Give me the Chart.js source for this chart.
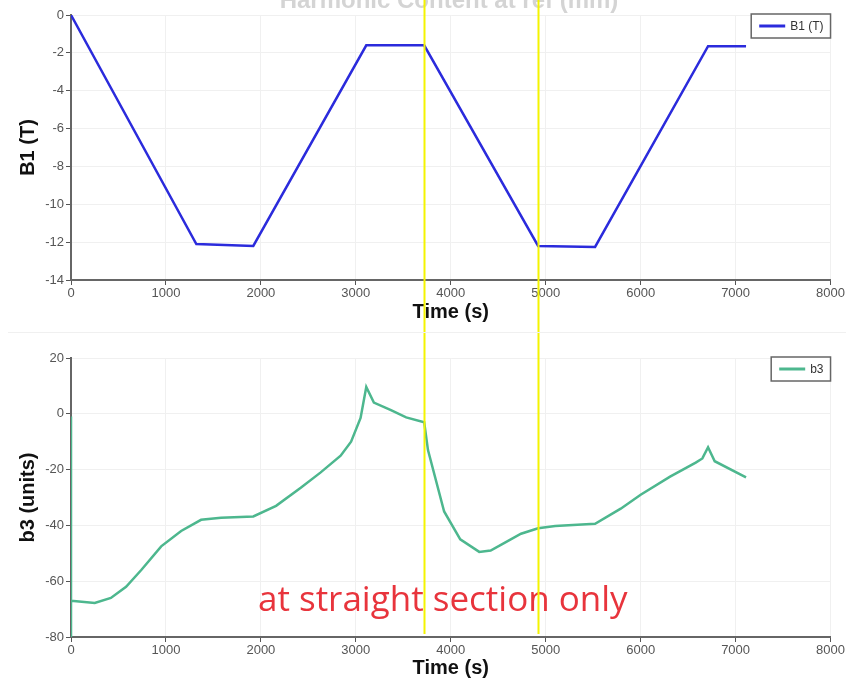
<!DOCTYPE html>
<html>
<head>
<meta charset="utf-8">
<script src="https://cdn.jsdelivr.net/npm/chart.js@4.4.1/dist/chart.umd.min.js"></script>
<style>
  body { margin: 0; background: #fff; }
  #wrap { position: relative; width: 846px; height: 681px; overflow: hidden; background: #fff; }
  #top { position: absolute; left: 0; top: 0; width: 846px; height: 333px; }
  #bottom { position: absolute; left: 0; top: 333px; width: 846px; height: 348px; }
  #sep { position: absolute; left: 8px; top: 332px; width: 838px; height: 1px; background: #f0f0f0; }
</style>
</head>
<body>
<div id="wrap">
  <div id="top"><canvas id="b1chart"></canvas></div>
  <div id="sep"></div>
  <div id="bottom"><canvas id="b3chart"></canvas></div>
</div>
<script>
/* Data */
const timeTicks = [0, 1000, 2000, 3000, 4000, 5000, 6000, 7000, 8000];
const markerTimes = [3720, 4920];

const b1Times  = [0, 1320, 1920, 3110, 3720, 4920, 5520, 6710, 7110];
const b1Values = [0, -12.1, -12.2, -1.6, -1.6, -12.2, -12.25, -1.65, -1.65];

const b3Times  = [0, 0, 0, 250, 420, 580, 740, 950, 1160, 1370, 1580, 1920, 2160, 2420, 2630, 2840, 2950, 3050, 3110, 3190, 3370, 3530, 3720, 3760, 3930, 4100, 4300, 4420, 4580, 4740, 4920, 5100, 5520, 5790, 6000, 6310, 6580, 6650, 6710, 6780, 7110];
const b3Values = [-1, -80, -67, -67.8, -66, -62, -56, -47.5, -42, -38, -37.3, -36.8, -33, -26.5, -21, -15, -10, -1.5, 9.6, 4, 1.3, -1.3, -3, -13, -35, -45, -49.5, -49, -46, -43, -41, -40.2, -39.4, -34, -29, -22.5, -17.5, -16, -12, -17, -22.8];

const tickFont = { family: "'Liberation Sans', Arial, sans-serif", size: 13 };
const titleFont = { family: "'Liberation Sans', Arial, sans-serif", size: 20, weight: 'bold' };

// turn two arrays into {x,y} points
function toPoints(xs, ys) {
  return xs.map((x, i) => ({ x: x, y: ys[i] }));
}

// legend box, yellow markers, faint title, red note
const overlay = {
  id: 'overlay',
  afterDraw(chart, args, opts) {
    const ctx = chart.ctx;
    const area = chart.chartArea;
    const xs = chart.scales.x, ys = chart.scales.y;
    ctx.save();

    if (opts.title) {
      ctx.font = "bold 24px 'Liberation Sans', sans-serif";
      ctx.fillStyle = '#d4d4d4';
      ctx.textAlign = 'center';
      ctx.textBaseline = 'alphabetic';
      ctx.fillText(opts.title, 449, 8);
    }

    if (opts.note) {
      ctx.font = "35px 'Open Sans', sans-serif";
      ctx.fillStyle = '#e8343c';
      ctx.textAlign = 'center';
      ctx.textBaseline = 'middle';
      ctx.fillText(opts.note.text, xs.getPixelForValue(opts.note.x), ys.getPixelForValue(opts.note.y));
    }

    // legend
    const ds = chart.data.datasets[0];
    ctx.font = "12px 'Liberation Sans', sans-serif";
    const tw = ctx.measureText(ds.label).width;
    const w = 8 + 26 + 5 + tw + 7, h = 24;
    const x0 = area.right - w, y0 = area.top - 1;
    ctx.fillStyle = '#fff';
    ctx.fillRect(x0, y0, w, h);
    ctx.strokeStyle = '#666';
    ctx.lineWidth = 1.5;
    ctx.strokeRect(x0, y0, w, h);
    ctx.strokeStyle = ds.borderColor;
    ctx.lineWidth = 3;
    ctx.beginPath();
    ctx.moveTo(x0 + 8, y0 + h / 2);
    ctx.lineTo(x0 + 34, y0 + h / 2);
    ctx.stroke();
    ctx.fillStyle = '#333';
    ctx.textAlign = 'left';
    ctx.textBaseline = 'middle';
    ctx.fillText(ds.label, x0 + 39, y0 + h / 2 + 1);

    // yellow markers
    ctx.strokeStyle = '#f4f400';
    ctx.lineWidth = 2;
    const yEnd = opts.markersToAxis ? area.bottom - 3 : chart.height;
    markerTimes.forEach((t) => {
      const px = Math.round(xs.getPixelForValue(t)) + 0.5;
      ctx.beginPath();
      ctx.moveTo(px, 0);
      ctx.lineTo(px, yEnd);
      ctx.stroke();
    });
    ctx.restore();
  }
};

function makeOptions(yTitle, yMin, yMax, yStep, padTop, xHeight, xTitlePad, extra) {
  return {
    responsive: true,
    maintainAspectRatio: false,
    animation: false,
    layout: { padding: { top: padTop, right: 15, left: 0, bottom: 0 } },
    plugins: {
      legend: { display: false },
      tooltip: { enabled: false },
      overlay: extra
    },
    scales: {
      x: {
        type: 'linear',
        min: 0, max: 8000,
        afterBuildTicks: (scale) => { scale.ticks = timeTicks.map((v) => ({ value: v })); },
        afterFit: (scale) => { scale.height = xHeight; },
        ticks: { color: '#555', font: tickFont, padding: 1, maxRotation: 0, callback: (v) => String(v) },
        grid: { color: '#f0f0f0', tickColor: '#555', tickLength: 5 },
        border: { color: '#666', width: 2 },
        title: { display: true, text: 'Time (s)', color: '#111', font: titleFont, padding: { top: 0, bottom: xTitlePad } }
      },
      y: {
        min: yMin, max: yMax,
        ticks: { stepSize: yStep, color: '#555', font: tickFont, padding: 2, callback: (v) => String(v) },
        afterFit: (scale) => { scale.width = 71; },
        grid: { color: '#f0f0f0', tickColor: '#555', tickLength: 5 },
        border: { color: '#666', width: 2 },
        title: { display: true, text: yTitle, color: '#111', font: titleFont, padding: { top: 16, bottom: 0 } }
      }
    }
  };
}

new Chart('b1chart', {
  type: 'line',
  data: {
    datasets: [{
      label: 'B1 (T)',
      data: toPoints(b1Times, b1Values),
      borderColor: '#2b2bdc',
      borderWidth: 2.5,
      pointRadius: 0,
      fill: false,
      tension: 0
    }]
  },
  options: makeOptions('B1 (T)', -14, 0, 2, 15, 53, 9, {
    title: 'Harmonic Content at ref (mm)',
    markersToAxis: false
  }),
  plugins: [overlay]
});

new Chart('b3chart', {
  type: 'line',
  data: {
    datasets: [{
      label: 'b3',
      data: toPoints(b3Times, b3Values),
      borderColor: '#4db78e',
      borderWidth: 2.5,
      pointRadius: 0,
      fill: false,
      tension: 0
    }]
  },
  options: makeOptions('b3 (units)', -80, 20, 20, 25, 44, 1, {
    note: { text: 'at straight section only', x: 3916, y: -67 },
    markersToAxis: true
  }),
  plugins: [overlay]
});
</script>
</body>
</html>
